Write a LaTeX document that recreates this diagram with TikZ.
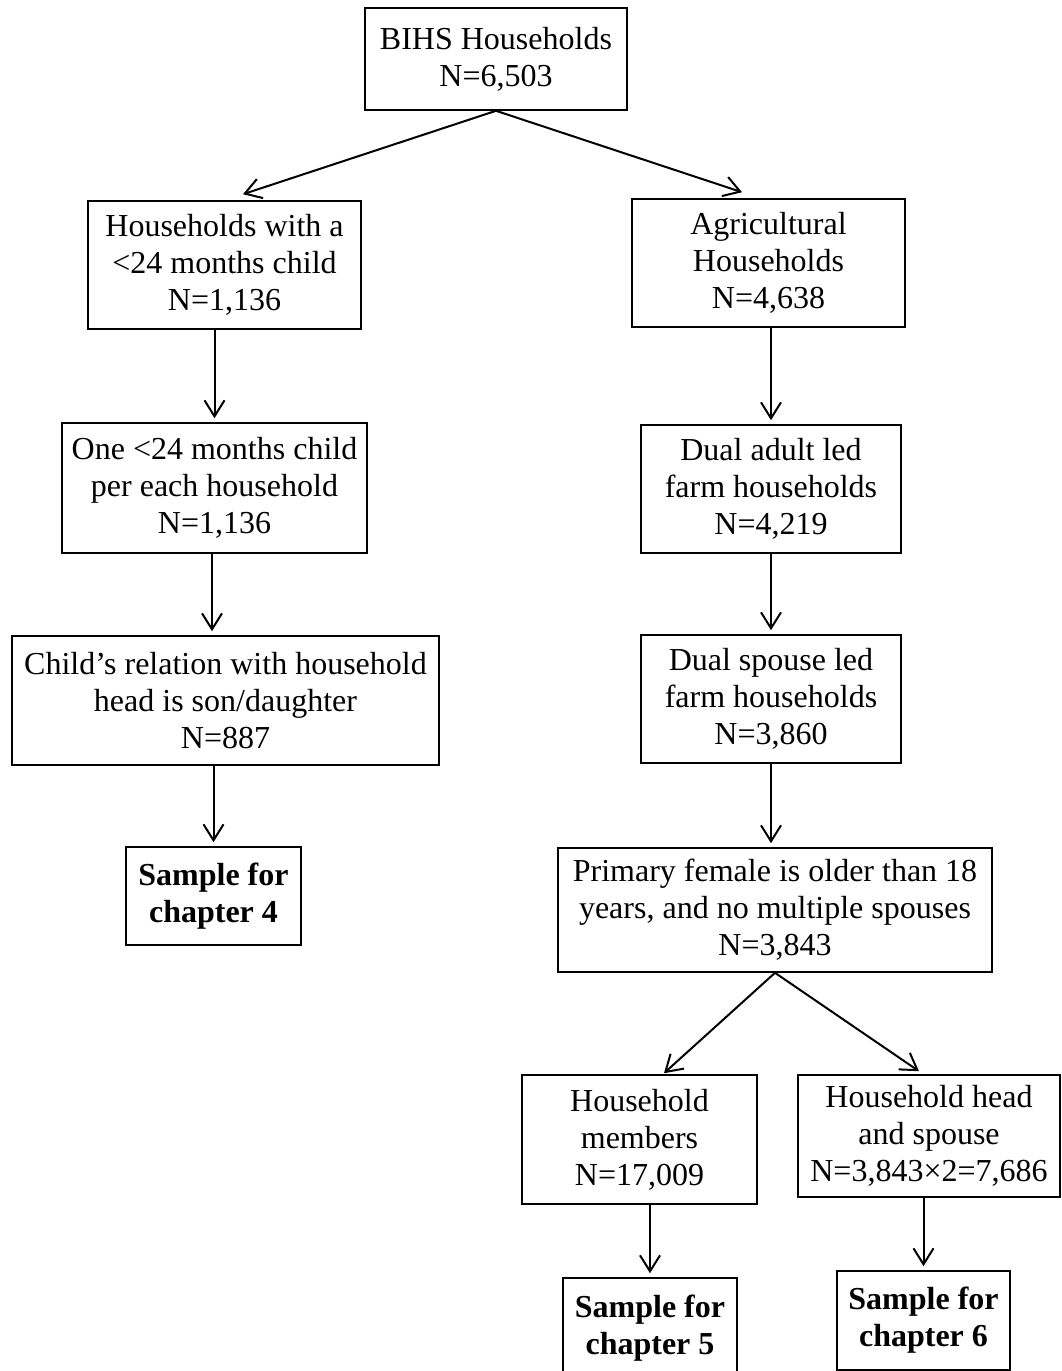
\documentclass[tikz,border=0pt]{standalone}
\usepackage{fontspec}
\setmainfont{Liberation Serif}
\usetikzlibrary{arrows.meta,calc}
\tikzset{
  bx/.style 2 args={draw, line width=1.2pt, inner sep=0pt, align=center,
    minimum width=#1*0.75pt, minimum height=#2*0.75pt,
    font=\fontsize{24pt}{27.75pt}\selectfont},
  bbx/.style 2 args={bx={#1}{#2}, font=\fontsize{24pt}{27.75pt}\selectfont\bfseries},
  arr/.style={line width=1.5pt, -{Straight Barb[length=12pt,width=15pt]}},
  varr/.style={arr, shorten >=3pt}
}
\begin{document}
\begin{tikzpicture}[x=0.75pt,y=-0.75pt]
\useasboundingbox (0,0) rectangle (1061,1371);
\clip (0,0) rectangle (1061,1371);
\fill[white] (0,0) rectangle (1061,1371);

\node[bx={262}{102}] (b1) at (496,59) {BIHS Households\\N=6,503};
\node[bx={273}{128}] (b2) at (224.5,265) {Households with a\\<24 months child\\N=1,136};
\node[bx={273}{128}] (b3) at (768.5,263) {Agricultural\\Households\\N=4,638};
\node[bx={305}{130}] (b4) at (214.5,488) {One <24 months child\\per each household\\N=1,136};
\node[bx={260}{128}] (b5) at (771,489) {Dual adult led\\farm households\\N=4,219};
\node[bx={427}{129}] (b6) at (225.5,700.5) {Child’s relation with household\\head is son/daughter\\N=887};
\node[bx={260}{128}] (b7) at (771,699) {Dual spouse led\\farm households\\N=3,860};
\node[bbx={175}{98}] (b8) at (213.5,896) {Sample for\\chapter 4};
\node[bx={434}{124}] (b9) at (775,910) {Primary female is older than 18\\years, and no multiple spouses\\N=3,843};
\node[bx={235}{129}] (b10) at (639.5,1139.5) {Household\\members\\N=17,009};
\node[bx={262}{122}] (b11) at (929,1136) {Household head\\and spouse\\N=3,843×2=7,686};
\node[bbx={174}{100}] (b12) at (650,1328) {Sample for\\chapter 5};
\node[bbx={173}{99}] (b13) at (923.5,1320.5) {Sample for\\chapter 6};

\coordinate (t2) at ($(b2.north)+(18.5,-6)$);
\coordinate (t3) at ($(b3.north)+(-26.5,-6)$);
\coordinate (t10) at ($(b10.north)+(24.5,-1)$);
\coordinate (t11) at ($(b11.north)+(-10,-3)$);

\draw[arr] (b1.south) -- (t2);
\draw[arr] (b1.south) -- (t3);
\draw[varr] (b4.north |- b2.south) -- (b4.north);
\draw[varr] (b4.south -| 212,0) -- (b6.north -| 212,0);
\draw[varr] (b8.north |- b6.south) -- (b8.north);
\draw[varr] (b5.north |- b3.south) -- (b5.north);
\draw[varr] (b7.north |- b5.south) -- (b7.north);
\draw[varr] (b7.south) -- (b9.north -| b7.south);
\draw[arr] (b9.south) -- (t10);
\draw[arr] (b9.south) -- (t11);
\draw[varr] (b12.north |- b10.south) -- (b12.north);
\draw[varr] (b13.north |- b11.south) -- (b13.north);
\end{tikzpicture}
\end{document}
